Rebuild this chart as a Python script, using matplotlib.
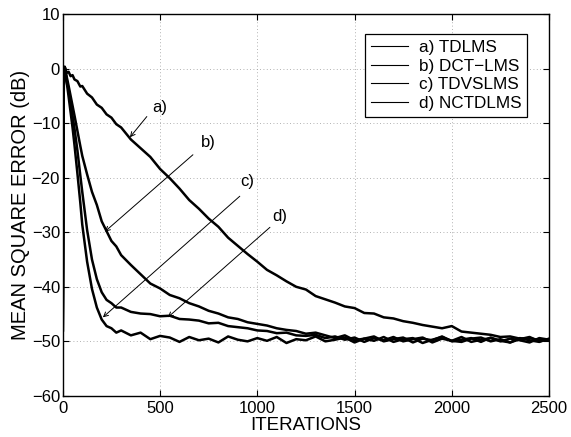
import matplotlib
matplotlib.use("Agg")
import matplotlib.pyplot as plt

# ── data (MSE in dB vs. iteration) ──
ITER = [0, 5, 10, 20, 30, 40, 50, 60, 75, 90, 100, 125, 150, 175, 200, 225, 250, 275, 300] \
    + list(range(350, 2501, 50))

MSE_A = [-48, -3, 0.3, -0.8, -0.6, -1.4, -1.2, -2.0, -2.3, -3.3, -3.2, -4.6, -5.3, -6.6, -7.2, -8.4, -9.0, -10.2, -10.8,
         -13.0, -14.6, -16.2, -18.4, -20.1, -22.0, -24.1, -25.7, -27.5, -29.0, -31.0, -32.5, -34.0, -35.4, -36.9,
         -37.9, -39.0, -40.0, -40.5, -41.7, -42.3, -42.9, -43.6, -43.9, -44.8, -44.9, -45.6, -45.8, -46.3, -46.6,
         -47.0, -47.3, -47.6, -47.2, -48.2, -48.4, -48.6, -48.8, -49.2, -49.1, -49.5, -49.4, -49.8, -49.6]

MSE_B = [-48, -3, 0.2, -1.5, -3.2, -5.0, -6.8, -8.6, -11.4, -14.2, -16.0, -19.4, -22.6, -25.0, -28.0, -29.8, -31.6, -32.6, -34.2,
         -36.0, -37.7, -39.4, -40.3, -41.5, -42.1, -43.0, -43.6, -44.4, -44.9, -45.6, -45.9, -46.5, -46.8, -47.1,
         -47.6, -47.9, -48.1, -48.6, -48.4, -48.9,
         -49.4, -48.9, -49.8, -49.5, -49.1, -50.0, -49.6, -49.3, -50.2, -49.5, -49.8, -49.1, -50.0, -49.7, -49.4,
         -50.1, -49.3, -49.9, -50.2, -49.6, -49.2, -50.0, -49.6]

MSE_C = [-48, -3, 0.3, -2.5, -5.2, -8.0, -10.8, -14.0, -19.2, -24.6, -28.6, -35.4, -40.4, -43.8, -46.0, -47.2, -47.6, -48.4, -48.0,
         -48.9, -48.4, -49.6, -49.0, -49.3, -50.1, -49.2, -49.8, -49.5, -50.2, -49.1, -49.7, -50.0, -49.4, -49.9,
         -49.2, -50.3, -49.6, -49.8, -49.1, -50.0, -49.7, -49.3, -50.2, -49.5, -49.9, -49.2, -50.1, -49.6, -49.4,
         -50.3, -49.7, -49.2, -49.9, -50.1, -49.5, -49.3, -50.0, -49.6, -50.2, -49.4, -49.8, -50.1, -49.5]

MSE_D = [-48, -3, 0.3, -2.0, -4.0, -6.2, -8.6, -11.0, -15.0, -19.6, -22.6, -29.6, -35.0, -38.6, -41.0, -42.4, -43.0, -43.8, -43.8,
         -44.6, -44.9, -45.0, -45.4, -45.3, -45.9, -46.0, -46.2, -46.7, -46.6, -47.2, -47.4, -47.6, -48.0, -48.1,
         -48.5, -48.4, -48.9, -49.0, -48.8, -49.4,
         -49.1, -49.7, -49.3, -50.1, -49.4, -49.8, -49.2, -50.0, -49.6, -49.3, -50.2, -49.5, -49.9, -49.2, -50.1,
         -49.7, -49.4, -50.0, -49.5, -49.8, -50.2, -49.4, -49.7]

LABELS = ["a) TDLMS", "b) DCT\u2212LMS", "c) TDVSLMS", "d) NCTDLMS"]

# annotation: (text, text position, arrow start, arrow tip)
NOTES = [
    ("a)", (500, -7.1), (432, -8.8), (345, -12.6)),
    ("b)", (746, -13.6), (669, -15.8), (216, -29.9)),
    ("c)", (946, -20.7), (910, -23.4), (206, -45.6)),
    ("d)", (1116, -27.1), (1065, -29.1), (540, -45.6)),
]

plt.rcParams["font.family"] = ["Liberation Sans", "DejaVu Sans"]

fig = plt.figure(figsize=(5.71, 4.37), dpi=100)
ax = fig.add_axes([0.110, 0.094, 0.8515, 0.874])

for ys, lab in zip([MSE_A, MSE_B, MSE_C, MSE_D], LABELS):
    ax.plot(ITER, ys, color="black", lw=1.8, label=lab)

for txt, tpos, start, tip in NOTES:
    ax.text(tpos[0], tpos[1], txt, fontsize=12, ha="center", va="center")
    ax.annotate("", xy=tip, xytext=start,
                arrowprops=dict(arrowstyle="->", lw=0.7, color="black",
                                mutation_scale=8, shrinkA=0, shrinkB=0))

ax.set_xlim(0, 2500)
ax.set_ylim(-60, 10)
ax.set_xticks(range(0, 2501, 500))
ax.set_yticks(range(-60, 11, 10))
ax.grid(True, linestyle=(0, (1, 3)), color="#999999", lw=0.6)
ax.tick_params(direction="in", top=True, right=True, labelsize=12, length=4)
ax.tick_params(axis="x", pad=4)
ax.tick_params(axis="y", pad=2)
for s in ax.spines.values():
    s.set_linewidth(1.0)

ax.set_xlabel("ITERATIONS", fontsize=13.5, labelpad=0.5)
ax.set_ylabel("MEAN SQUARE ERROR (dB)", fontsize=14.5, labelpad=1)

leg = ax.legend(loc="upper right", bbox_to_anchor=(0.955, 0.948), borderaxespad=0,
                fontsize=12.3, handlelength=2.2, handletextpad=0.6, borderpad=0.35,
                labelspacing=0.22, fancybox=False, framealpha=1, edgecolor="black")
leg.get_frame().set_linewidth(0.9)
for ln in leg.get_lines():
    ln.set_linewidth(0.8)

fig.savefig("out.png", dpi=100)
